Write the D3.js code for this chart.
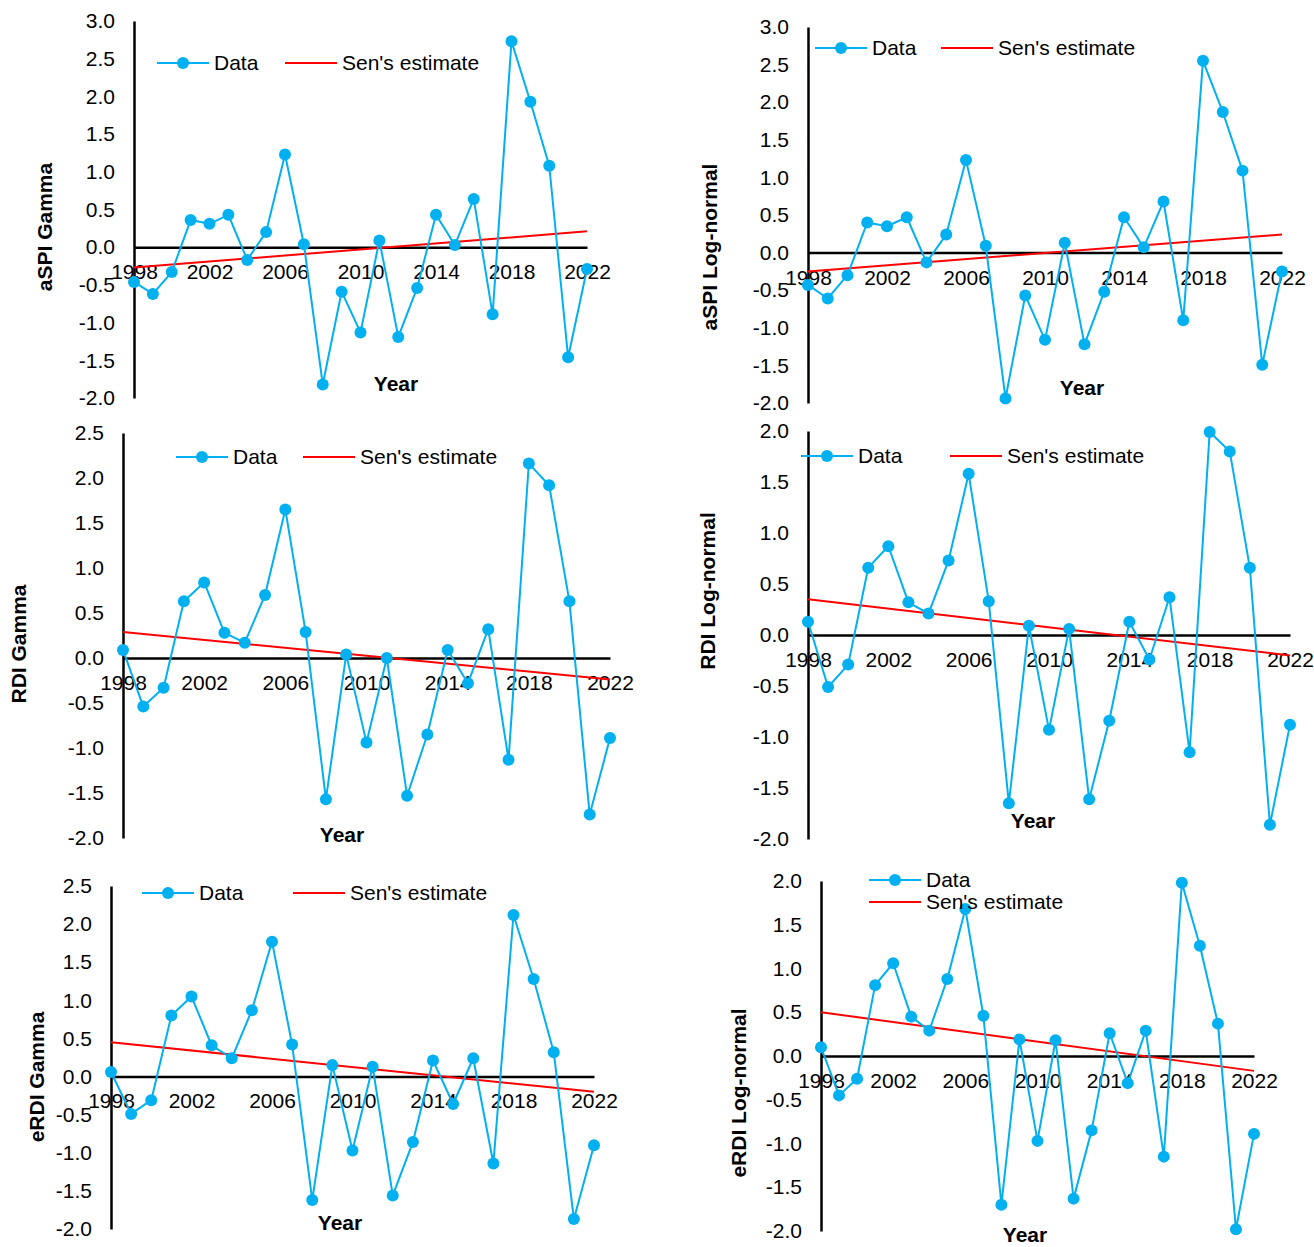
<!DOCTYPE html>
<html>
<head>
<meta charset="utf-8">
<script src="https://cdn.jsdelivr.net/npm/d3@7"></script>
<style>
  html, body { margin: 0; padding: 0; background: #ffffff; }
  svg { display: block; font-family: "Liberation Sans", Arial, sans-serif; }
</style>
</head>
<body>
<svg id="chart" width="1314" height="1247"></svg>
<script>
// Years of record and the labelled years on the horizontal axis
const years = [1998, 1999, 2000, 2001, 2002, 2003, 2004, 2005, 2006, 2007, 2008, 2009,
               2010, 2011, 2012, 2013, 2014, 2015, 2016, 2017, 2018, 2019, 2020, 2021, 2022];
const yearTicks = [1998, 2002, 2006, 2010, 2014, 2018, 2022];

// Annual index values
const aspiGamma = [-0.46, -0.62, -0.33, 0.36, 0.31, 0.43, -0.17, 0.20, 1.23, 0.04, -1.82, -0.59,
                   -1.13, 0.09, -1.19, -0.54, 0.43, 0.03, 0.64, -0.89, 2.73, 1.93, 1.08, -1.46, -0.29];
const aspiLogNormal = [-0.43, -0.61, -0.30, 0.40, 0.35, 0.47, -0.13, 0.24, 1.23, 0.09, -1.94, -0.57,
                       -1.16, 0.13, -1.22, -0.52, 0.47, 0.07, 0.68, -0.90, 2.55, 1.87, 1.09, -1.49, -0.25];
const rdiGamma = [0.09, -0.54, -0.33, 0.63, 0.84, 0.28, 0.17, 0.70, 1.65, 0.29, -1.57, 0.04,
                  -0.94, 0.00, -1.53, -0.85, 0.09, -0.28, 0.32, -1.13, 2.16, 1.92, 0.63, -1.74, -0.89];
const rdiLogNormal = [0.13, -0.51, -0.29, 0.66, 0.87, 0.32, 0.21, 0.73, 1.58, 0.33, -1.65, 0.09,
                      -0.93, 0.06, -1.61, -0.84, 0.13, -0.24, 0.37, -1.15, 1.99, 1.80, 0.66, -1.86, -0.88];
const erdiGamma = [0.06, -0.49, -0.31, 0.80, 1.05, 0.41, 0.24, 0.87, 1.77, 0.42, -1.62, 0.15,
                   -0.97, 0.13, -1.56, -0.86, 0.21, -0.36, 0.24, -1.14, 2.12, 1.28, 0.32, -1.87, -0.90];
const erdiLogNormal = [0.10, -0.45, -0.26, 0.81, 1.06, 0.45, 0.29, 0.88, 1.68, 0.46, -1.70, 0.19,
                       -0.97, 0.18, -1.63, -0.85, 0.26, -0.31, 0.29, -1.15, 1.98, 1.26, 0.37, -1.98, -0.89];

// Sen's slope trend line: value in the first and in the last year
const senAspiGamma = [-0.27, 0.21];
const senAspiLogNormal = [-0.25, 0.24];
const senRdiGamma = [0.29, -0.24];
const senRdiLogNormal = [0.35, -0.20];
const senErdiGamma = [0.45, -0.20];
const senErdiLogNormal = [0.50, -0.17];

// Text
const legendLabels = ["Data", "Sen's estimate"];
const xTitle = "Year";

const BLUE = "#00B0F0";
const RED = "#FF0000";
const FONT = 21;

// One entry per small chart: data plus its placement on the page
const panels = [
  { title: "aSPI Gamma", values: aspiGamma, sen: senAspiGamma, yMin: -2, yMax: 3,
    x0: 134, x1: 587, yTop: 21, yBottom: 398, titleX: 45, titleY: 227, yearX: 396, yearY: 384,
    legData: [157, 63], legSen: [285, 63] },
  { title: "aSPI Log-normal", values: aspiLogNormal, sen: senAspiLogNormal, yMin: -2, yMax: 3,
    x0: 808, x1: 1282, yTop: 27, yBottom: 403, titleX: 710, titleY: 247, yearX: 1082, yearY: 388,
    legData: [815, 48], legSen: [941, 48] },
  { title: "RDI Gamma", values: rdiGamma, sen: senRdiGamma, yMin: -2, yMax: 2.5,
    x0: 123, x1: 610, yTop: 433, yBottom: 838, titleX: 19, titleY: 644, yearX: 342, yearY: 835,
    legData: [176, 457], legSen: [303, 457] },
  { title: "RDI Log-normal", values: rdiLogNormal, sen: senRdiLogNormal, yMin: -2, yMax: 2,
    x0: 808, x1: 1290, yTop: 431, yBottom: 839, titleX: 708, titleY: 591, yearX: 1033, yearY: 821,
    legData: [801, 456], legSen: [950, 456] },
  { title: "eRDI Gamma", values: erdiGamma, sen: senErdiGamma, yMin: -2, yMax: 2.5,
    x0: 111, x1: 594, yTop: 886, yBottom: 1229, titleX: 37, titleY: 1077, yearX: 340, yearY: 1223,
    legData: [142, 893], legSen: [293, 893] },
  { title: "eRDI Log-normal", values: erdiLogNormal, sen: senErdiLogNormal, yMin: -2, yMax: 2,
    x0: 821, x1: 1254, yTop: 881, yBottom: 1231, titleX: 739, titleY: 1093, yearX: 1025, yearY: 1235,
    legData: [869, 880], legSen: [869, 902] }
];

const svg = d3.select("#chart");
svg.append("rect").attr("width", 1314).attr("height", 1247).attr("fill", "#ffffff");

const fmt = d => d.toFixed(1);

panels.forEach(p => {
  const g = svg.append("g");
  const x = d3.scaleLinear().domain([years[0], years[years.length - 1]]).range([p.x0, p.x1]);
  const y = d3.scaleLinear().domain([p.yMin, p.yMax]).range([p.yBottom, p.yTop]);
  const yTicks = d3.range(p.yMin, p.yMax + 0.001, 0.5);

  // Horizontal axis through zero with year labels
  const xAxis = g.append("g")
    .attr("transform", `translate(0,${y(0)})`)
    .call(d3.axisBottom(x).tickValues(yearTicks).tickSize(0).tickPadding(17).tickFormat(d3.format("d")));
  xAxis.select(".domain").attr("stroke", "#000").attr("stroke-width", 2.5);
  xAxis.selectAll("text").attr("font-size", FONT).attr("fill", "#000")
    .attr("font-family", "'Liberation Sans', Arial, sans-serif");

  // Vertical axis at the first year
  const yAxis = g.append("g")
    .attr("transform", `translate(${x(years[0])},0)`)
    .call(d3.axisLeft(y).tickValues(yTicks).tickSize(0).tickPadding(19).tickFormat(fmt));
  yAxis.select(".domain").attr("stroke", "#000").attr("stroke-width", 2.5);
  yAxis.selectAll("text").attr("font-size", FONT).attr("fill", "#000")
    .attr("font-family", "'Liberation Sans', Arial, sans-serif");

  // Sen's slope trend
  g.append("line")
    .attr("x1", x(years[0])).attr("y1", y(p.sen[0]))
    .attr("x2", x(years[years.length - 1])).attr("y2", y(p.sen[1]))
    .attr("stroke", RED).attr("stroke-width", 2);

  // Index series
  const series = years.map((yr, i) => ({ yr, v: p.values[i] }));
  g.append("path")
    .datum(series)
    .attr("fill", "none").attr("stroke", BLUE).attr("stroke-width", 2)
    .attr("stroke-linejoin", "round")
    .attr("d", d3.line().x(d => x(d.yr)).y(d => y(d.v)));
  g.selectAll("circle.pt").data(series).join("circle")
    .attr("class", "pt")
    .attr("cx", d => x(d.yr)).attr("cy", d => y(d.v)).attr("r", 6)
    .attr("fill", BLUE);

  // Axis titles
  g.append("text")
    .attr("transform", `translate(${p.titleX},${p.titleY}) rotate(-90)`)
    .attr("text-anchor", "middle").attr("dy", "0.35em")
    .attr("font-size", FONT).attr("font-weight", "bold").attr("fill", "#000")
    .text(p.title);
  g.append("text")
    .attr("x", p.yearX).attr("y", p.yearY)
    .attr("text-anchor", "middle").attr("dy", "0.35em")
    .attr("font-size", FONT).attr("font-weight", "bold").attr("fill", "#000")
    .text(xTitle);

  // Legend
  const LL = 52;
  const [dx, dy] = p.legData;
  g.append("line").attr("x1", dx).attr("x2", dx + LL).attr("y1", dy).attr("y2", dy)
    .attr("stroke", BLUE).attr("stroke-width", 2);
  g.append("circle").attr("cx", dx + LL / 2).attr("cy", dy).attr("r", 6).attr("fill", BLUE);
  g.append("text").attr("x", dx + LL + 5).attr("y", dy).attr("dy", "0.35em")
    .attr("font-size", FONT).attr("fill", "#000").text(legendLabels[0]);
  const [sx, sy] = p.legSen;
  g.append("line").attr("x1", sx).attr("x2", sx + LL).attr("y1", sy).attr("y2", sy)
    .attr("stroke", RED).attr("stroke-width", 2);
  g.append("text").attr("x", sx + LL + 5).attr("y", sy).attr("dy", "0.35em")
    .attr("font-size", FONT).attr("fill", "#000").text(legendLabels[1]);
});
</script>
</body>
</html>
